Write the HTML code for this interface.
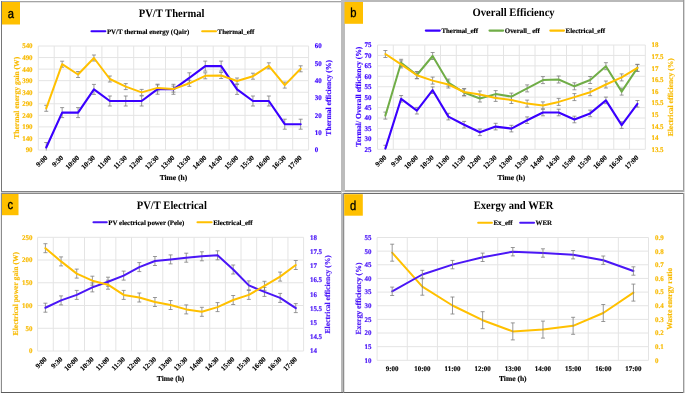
<!DOCTYPE html><html><head><meta charset="utf-8"><style>html,body{margin:0;padding:0;background:#fff;}svg{display:block;will-change:transform;text-rendering:geometricPrecision;}</style></head><body>
<div id="w"><svg width="685" height="394" viewBox="0 0 685 394">
<g>
<rect width="685" height="394" fill="#fff"/>
<g shape-rendering="crispEdges">
<rect x="1" y="1" width="340" height="1" fill="#a4a4a4"/>
<rect x="1" y="2" width="340" height="1" fill="#e4e4e4"/>
<rect x="1" y="1" width="1" height="191" fill="#767676"/>
<rect x="1" y="191" width="340" height="1" fill="#828282"/>
<rect x="341" y="0" width="344" height="2" fill="#b9b9b9"/>
<rect x="341" y="0" width="4" height="192" fill="#bcbcbc"/>
<rect x="683" y="0" width="1" height="192" fill="#9a9a9a"/>
<rect x="684" y="0" width="1" height="192" fill="#d8d8d8"/>
<rect x="345" y="190" width="339" height="2" fill="#a9a9a9"/>
<rect x="1" y="192" width="341" height="1" fill="#cacaca"/>
<rect x="343" y="192" width="342" height="1" fill="#f0f0f0"/>
<rect x="0" y="193" width="1" height="200" fill="#eeeeee"/>
<rect x="1" y="193" width="341" height="1" fill="#8a8a8a"/>
<rect x="1" y="193" width="1" height="200" fill="#8c8c8c"/>
<rect x="341" y="193" width="2" height="200" fill="#b8b8b8"/>
<rect x="1" y="392" width="683" height="1" fill="#5c5c5c"/>
<rect x="343" y="193" width="342" height="1" fill="#6c6c6c"/>
<rect x="343" y="193" width="1" height="200" fill="#8e8e8e"/>
<rect x="344" y="194" width="1" height="198" fill="#e2e2e2"/>
<rect x="683" y="193" width="1" height="200" fill="#9a9a9a"/>
<rect x="684" y="193" width="1" height="200" fill="#d8d8d8"/>
</g>
<rect x="2" y="2" width="18" height="22.5" fill="#FFC000"/>
<text x="0" y="0" font-size="13" fill="#000" text-anchor="middle" font-weight="normal" font-family="'Liberation Sans', sans-serif" transform="translate(10.8 17.7) scale(0.86 1)" stroke="#000" stroke-width="0.35">a</text>
<text x="0" y="0" font-size="11.4" fill="#000" text-anchor="middle" font-weight="bold" font-family="'Liberation Serif', serif" transform="translate(171.6 17.1) scale(0.93 1)">PV/T Thermal</text>
<path d="M91.5 31.3H105.3" stroke="#3A00FF" stroke-width="2.1" stroke-linecap="round"/>
<text x="106.9" y="33.6" font-size="6.9" fill="#000" text-anchor="start" font-weight="bold" font-family="'Liberation Serif', serif" stroke="#000" stroke-width="0.15">PV/T thermal energy (Qair)</text>
<path d="M202.2 31.3H216" stroke="#FFC000" stroke-width="2.1" stroke-linecap="round"/>
<text x="217.6" y="33.6" font-size="6.9" fill="#000" text-anchor="start" font-weight="bold" font-family="'Liberation Serif', serif" stroke="#000" stroke-width="0.15">Thermal_eff</text>
<path d="M38.3 46H308.6M38.3 57.56H308.6M38.3 69.11H308.6M38.3 80.67H308.6M38.3 92.22H308.6M38.3 103.78H308.6M38.3 115.33H308.6M38.3 126.89H308.6M38.3 138.44H308.6M38.3 150H308.6M38.3 46V150M54.2 46V150M70.1 46V150M86 46V150M101.9 46V150M117.8 46V150M133.7 46V150M149.6 46V150M165.5 46V150M181.4 46V150M197.3 46V150M213.2 46V150M229.1 46V150M245 46V150M260.9 46V150M276.8 46V150M292.7 46V150M308.6 46V150" fill="none" stroke="#e4e4e4" stroke-width="1"/>
<text x="0" y="0" font-size="7.1" fill="#F8BA00" text-anchor="end" font-weight="bold" font-family="'Liberation Serif', serif" transform="translate(32.6 48.4) scale(0.98 1)" stroke="#F8BA00" stroke-width="0.15">540</text>
<text x="0" y="0" font-size="7.1" fill="#F8BA00" text-anchor="end" font-weight="bold" font-family="'Liberation Serif', serif" transform="translate(32.6 59.96) scale(0.98 1)" stroke="#F8BA00" stroke-width="0.15">490</text>
<text x="0" y="0" font-size="7.1" fill="#F8BA00" text-anchor="end" font-weight="bold" font-family="'Liberation Serif', serif" transform="translate(32.6 71.51) scale(0.98 1)" stroke="#F8BA00" stroke-width="0.15">440</text>
<text x="0" y="0" font-size="7.1" fill="#F8BA00" text-anchor="end" font-weight="bold" font-family="'Liberation Serif', serif" transform="translate(32.6 83.07) scale(0.98 1)" stroke="#F8BA00" stroke-width="0.15">390</text>
<text x="0" y="0" font-size="7.1" fill="#F8BA00" text-anchor="end" font-weight="bold" font-family="'Liberation Serif', serif" transform="translate(32.6 94.62) scale(0.98 1)" stroke="#F8BA00" stroke-width="0.15">340</text>
<text x="0" y="0" font-size="7.1" fill="#F8BA00" text-anchor="end" font-weight="bold" font-family="'Liberation Serif', serif" transform="translate(32.6 106.18) scale(0.98 1)" stroke="#F8BA00" stroke-width="0.15">290</text>
<text x="0" y="0" font-size="7.1" fill="#F8BA00" text-anchor="end" font-weight="bold" font-family="'Liberation Serif', serif" transform="translate(32.6 117.73) scale(0.98 1)" stroke="#F8BA00" stroke-width="0.15">240</text>
<text x="0" y="0" font-size="7.1" fill="#F8BA00" text-anchor="end" font-weight="bold" font-family="'Liberation Serif', serif" transform="translate(32.6 129.29) scale(0.98 1)" stroke="#F8BA00" stroke-width="0.15">190</text>
<text x="0" y="0" font-size="7.1" fill="#F8BA00" text-anchor="end" font-weight="bold" font-family="'Liberation Serif', serif" transform="translate(32.6 140.84) scale(0.98 1)" stroke="#F8BA00" stroke-width="0.15">140</text>
<text x="0" y="0" font-size="7.1" fill="#F8BA00" text-anchor="end" font-weight="bold" font-family="'Liberation Serif', serif" transform="translate(32.6 152.4) scale(0.98 1)" stroke="#F8BA00" stroke-width="0.15">90</text>
<text x="0" y="0" font-size="7.1" fill="#3A00FF" text-anchor="start" font-weight="bold" font-family="'Liberation Serif', serif" transform="translate(314.8 48.4) scale(0.98 1)" stroke="#3A00FF" stroke-width="0.15">60</text>
<text x="0" y="0" font-size="7.1" fill="#3A00FF" text-anchor="start" font-weight="bold" font-family="'Liberation Serif', serif" transform="translate(314.8 65.73) scale(0.98 1)" stroke="#3A00FF" stroke-width="0.15">50</text>
<text x="0" y="0" font-size="7.1" fill="#3A00FF" text-anchor="start" font-weight="bold" font-family="'Liberation Serif', serif" transform="translate(314.8 83.07) scale(0.98 1)" stroke="#3A00FF" stroke-width="0.15">40</text>
<text x="0" y="0" font-size="7.1" fill="#3A00FF" text-anchor="start" font-weight="bold" font-family="'Liberation Serif', serif" transform="translate(314.8 100.4) scale(0.98 1)" stroke="#3A00FF" stroke-width="0.15">30</text>
<text x="0" y="0" font-size="7.1" fill="#3A00FF" text-anchor="start" font-weight="bold" font-family="'Liberation Serif', serif" transform="translate(314.8 117.73) scale(0.98 1)" stroke="#3A00FF" stroke-width="0.15">20</text>
<text x="0" y="0" font-size="7.1" fill="#3A00FF" text-anchor="start" font-weight="bold" font-family="'Liberation Serif', serif" transform="translate(314.8 135.07) scale(0.98 1)" stroke="#3A00FF" stroke-width="0.15">10</text>
<text x="0" y="0" font-size="7.1" fill="#3A00FF" text-anchor="start" font-weight="bold" font-family="'Liberation Serif', serif" transform="translate(314.8 152.4) scale(0.98 1)" stroke="#3A00FF" stroke-width="0.15">0</text>
<text x="18.6" y="97.8" font-size="7.55" fill="#F8BA00" text-anchor="middle" font-weight="bold" font-family="'Liberation Serif', serif" transform="rotate(-90 18.6 97.8)" stroke="#F8BA00" stroke-width="0.15">Thermal energy gain (W)</text>
<text x="331.2" y="97.8" font-size="7.62" fill="#3A00FF" text-anchor="middle" font-weight="bold" font-family="'Liberation Serif', serif" transform="rotate(-90 331.2 97.8)" stroke="#3A00FF" stroke-width="0.15">Thermal efficiency (%)</text>
<clipPath id="cp1"><rect x="37.8" y="45.5" width="271.3" height="105"/></clipPath><g clip-path="url(#cp1)">
<path d="M46.25 105.3V111.3M44.25 105.3H48.25M44.25 111.3H48.25M62.15 61.2V67.2M60.15 61.2H64.15M60.15 67.2H64.15M78.05 71.5V77.5M76.05 71.5H80.05M76.05 77.5H80.05M93.95 55V61M91.95 55H95.95M91.95 61H95.95M109.85 76V82M107.85 76H111.85M107.85 82H111.85M125.75 83.6V89.6M123.75 83.6H127.75M123.75 89.6H127.75M141.65 89.4V95.4M139.65 89.4H143.65M139.65 95.4H143.65M157.55 84.9V90.9M155.55 84.9H159.55M155.55 90.9H159.55M173.45 86.1V92.1M171.45 86.1H175.45M171.45 92.1H175.45M189.35 80.3V86.3M187.35 80.3H191.35M187.35 86.3H191.35M205.25 72.8V78.8M203.25 72.8H207.25M203.25 78.8H207.25M221.15 72.5V78.5M219.15 72.5H223.15M219.15 78.5H223.15M237.05 78V84M235.05 78H239.05M235.05 84H239.05M252.95 73.2V79.2M250.95 73.2H254.95M250.95 79.2H254.95M268.85 62.8V68.8M266.85 62.8H270.85M266.85 68.8H270.85M284.75 82.1V88.1M282.75 82.1H286.75M282.75 88.1H286.75M300.65 65.8V71.8M298.65 65.8H302.65M298.65 71.8H302.65" fill="none" stroke="#7f7f7f" stroke-width="0.8"/>
<path d="M46.25 142.5V152.5M44.25 142.5H48.25M44.25 152.5H48.25M62.15 107.6V117.6M60.15 107.6H64.15M60.15 117.6H64.15M78.05 107.6V117.6M76.05 107.6H80.05M76.05 117.6H80.05M93.95 84.4V94.4M91.95 84.4H95.95M91.95 94.4H95.95M109.85 96V106M107.85 96H111.85M107.85 106H111.85M125.75 96V106M123.75 96H127.75M123.75 106H127.75M141.65 96V106M139.65 96H143.65M139.65 106H143.65M157.55 84.2V94.2M155.55 84.2H159.55M155.55 94.2H159.55M173.45 84.3V94.3M171.45 84.3H175.45M171.45 94.3H175.45M189.35 72.8V82.8M187.35 72.8H191.35M187.35 82.8H191.35M205.25 61.1V71.1M203.25 61.1H207.25M203.25 71.1H207.25M221.15 61.1V71.1M219.15 61.1H223.15M219.15 71.1H223.15M237.05 84.4V94.4M235.05 84.4H239.05M235.05 94.4H239.05M252.95 96V106M250.95 96H254.95M250.95 106H254.95M268.85 96V106M266.85 96H270.85M266.85 106H270.85M284.75 119.2V129.2M282.75 119.2H286.75M282.75 129.2H286.75M300.65 119.2V129.2M298.65 119.2H302.65M298.65 129.2H302.65" fill="none" stroke="#7f7f7f" stroke-width="0.8"/>
<path d="M46.25 147.5 L62.15 112.6 L78.05 112.6 L93.95 89.4 L109.85 101 L125.75 101 L141.65 101 L157.55 89.2 L173.45 89.3 L189.35 77.8 L205.25 66.1 L221.15 66.1 L237.05 89.4 L252.95 101 L268.85 101 L284.75 124.2 L300.65 124.2" fill="none" stroke="#3A00FF" stroke-width="2.15" stroke-linejoin="round" stroke-linecap="round"/>
<path d="M46.25 108.3 L62.15 64.2 L78.05 74.5 L93.95 58 L109.85 79 L125.75 86.6 L141.65 92.4 L157.55 87.9 L173.45 89.1 L189.35 83.3 L205.25 75.8 L221.15 75.5 L237.05 81 L252.95 76.2 L268.85 65.8 L284.75 85.1 L300.65 68.8" fill="none" stroke="#FFC000" stroke-width="2.0" stroke-linejoin="round" stroke-linecap="round"/>
</g>
<text x="0" y="0" font-size="7.1" fill="#000" text-anchor="end" font-weight="bold" font-family="'Liberation Serif', serif" transform="translate(47.85 158.3) rotate(-45) scale(0.98 1)" stroke="#000" stroke-width="0.15">9:00</text>
<text x="0" y="0" font-size="7.1" fill="#000" text-anchor="end" font-weight="bold" font-family="'Liberation Serif', serif" transform="translate(63.75 158.3) rotate(-45) scale(0.98 1)" stroke="#000" stroke-width="0.15">9:30</text>
<text x="0" y="0" font-size="7.1" fill="#000" text-anchor="end" font-weight="bold" font-family="'Liberation Serif', serif" transform="translate(79.65 158.3) rotate(-45) scale(0.98 1)" stroke="#000" stroke-width="0.15">10:00</text>
<text x="0" y="0" font-size="7.1" fill="#000" text-anchor="end" font-weight="bold" font-family="'Liberation Serif', serif" transform="translate(95.55 158.3) rotate(-45) scale(0.98 1)" stroke="#000" stroke-width="0.15">10:30</text>
<text x="0" y="0" font-size="7.1" fill="#000" text-anchor="end" font-weight="bold" font-family="'Liberation Serif', serif" transform="translate(111.45 158.3) rotate(-45) scale(0.98 1)" stroke="#000" stroke-width="0.15">11:00</text>
<text x="0" y="0" font-size="7.1" fill="#000" text-anchor="end" font-weight="bold" font-family="'Liberation Serif', serif" transform="translate(127.35 158.3) rotate(-45) scale(0.98 1)" stroke="#000" stroke-width="0.15">11:30</text>
<text x="0" y="0" font-size="7.1" fill="#000" text-anchor="end" font-weight="bold" font-family="'Liberation Serif', serif" transform="translate(143.25 158.3) rotate(-45) scale(0.98 1)" stroke="#000" stroke-width="0.15">12:00</text>
<text x="0" y="0" font-size="7.1" fill="#000" text-anchor="end" font-weight="bold" font-family="'Liberation Serif', serif" transform="translate(159.15 158.3) rotate(-45) scale(0.98 1)" stroke="#000" stroke-width="0.15">12:30</text>
<text x="0" y="0" font-size="7.1" fill="#000" text-anchor="end" font-weight="bold" font-family="'Liberation Serif', serif" transform="translate(175.05 158.3) rotate(-45) scale(0.98 1)" stroke="#000" stroke-width="0.15">13:00</text>
<text x="0" y="0" font-size="7.1" fill="#000" text-anchor="end" font-weight="bold" font-family="'Liberation Serif', serif" transform="translate(190.95 158.3) rotate(-45) scale(0.98 1)" stroke="#000" stroke-width="0.15">13:30</text>
<text x="0" y="0" font-size="7.1" fill="#000" text-anchor="end" font-weight="bold" font-family="'Liberation Serif', serif" transform="translate(206.85 158.3) rotate(-45) scale(0.98 1)" stroke="#000" stroke-width="0.15">14:00</text>
<text x="0" y="0" font-size="7.1" fill="#000" text-anchor="end" font-weight="bold" font-family="'Liberation Serif', serif" transform="translate(222.75 158.3) rotate(-45) scale(0.98 1)" stroke="#000" stroke-width="0.15">14:30</text>
<text x="0" y="0" font-size="7.1" fill="#000" text-anchor="end" font-weight="bold" font-family="'Liberation Serif', serif" transform="translate(238.65 158.3) rotate(-45) scale(0.98 1)" stroke="#000" stroke-width="0.15">15:00</text>
<text x="0" y="0" font-size="7.1" fill="#000" text-anchor="end" font-weight="bold" font-family="'Liberation Serif', serif" transform="translate(254.55 158.3) rotate(-45) scale(0.98 1)" stroke="#000" stroke-width="0.15">15:30</text>
<text x="0" y="0" font-size="7.1" fill="#000" text-anchor="end" font-weight="bold" font-family="'Liberation Serif', serif" transform="translate(270.45 158.3) rotate(-45) scale(0.98 1)" stroke="#000" stroke-width="0.15">16:00</text>
<text x="0" y="0" font-size="7.1" fill="#000" text-anchor="end" font-weight="bold" font-family="'Liberation Serif', serif" transform="translate(286.35 158.3) rotate(-45) scale(0.98 1)" stroke="#000" stroke-width="0.15">16:30</text>
<text x="0" y="0" font-size="7.1" fill="#000" text-anchor="end" font-weight="bold" font-family="'Liberation Serif', serif" transform="translate(302.25 158.3) rotate(-45) scale(0.98 1)" stroke="#000" stroke-width="0.15">17:00</text>
<text x="173.45" y="179.8" font-size="7.5" fill="#000" text-anchor="middle" font-weight="bold" font-family="'Liberation Serif', serif" stroke="#000" stroke-width="0.15">Time (h)</text>
<rect x="344.5" y="2" width="18.5" height="21.8" fill="#FFC000"/>
<text x="0" y="0" font-size="13" fill="#000" text-anchor="middle" font-weight="normal" font-family="'Liberation Sans', sans-serif" transform="translate(353.4 17.4) scale(0.86 1)" stroke="#000" stroke-width="0.35">b</text>
<text x="0" y="0" font-size="11.4" fill="#000" text-anchor="middle" font-weight="bold" font-family="'Liberation Serif', serif" transform="translate(513.6 16.4) scale(0.93 1)">Overall Efficiency</text>
<path d="M425.8 30.6H439.8" stroke="#3A00FF" stroke-width="2.1" stroke-linecap="round"/>
<text x="441.4" y="32.9" font-size="6.9" fill="#000" text-anchor="start" font-weight="bold" font-family="'Liberation Serif', serif" stroke="#000" stroke-width="0.15">Thermal_eff</text>
<path d="M489.5 30.6H503.2" stroke="#70AD47" stroke-width="2.1" stroke-linecap="round"/>
<text x="504.8" y="32.9" font-size="6.9" fill="#000" text-anchor="start" font-weight="bold" font-family="'Liberation Serif', serif" stroke="#000" stroke-width="0.15">Overall_ eff</text>
<path d="M550.3 30.6H564" stroke="#FFC000" stroke-width="2.1" stroke-linecap="round"/>
<text x="565.6" y="32.9" font-size="6.9" fill="#000" text-anchor="start" font-weight="bold" font-family="'Liberation Serif', serif" stroke="#000" stroke-width="0.15">Electrical_eff</text>
<path d="M377.5 45H645.3M377.5 55.43H645.3M377.5 65.86H645.3M377.5 76.29H645.3M377.5 86.72H645.3M377.5 97.15H645.3M377.5 107.58H645.3M377.5 118.01H645.3M377.5 128.44H645.3M377.5 138.87H645.3M377.5 149.3H645.3M377.5 45V149.3M393.25 45V149.3M409.01 45V149.3M424.76 45V149.3M440.51 45V149.3M456.26 45V149.3M472.02 45V149.3M487.77 45V149.3M503.52 45V149.3M519.28 45V149.3M535.03 45V149.3M550.78 45V149.3M566.54 45V149.3M582.29 45V149.3M598.04 45V149.3M613.79 45V149.3M629.55 45V149.3M645.3 45V149.3" fill="none" stroke="#e4e4e4" stroke-width="1"/>
<text x="0" y="0" font-size="7.1" fill="#3A00FF" text-anchor="end" font-weight="bold" font-family="'Liberation Serif', serif" transform="translate(371.4 47.4) scale(0.98 1)" stroke="#3A00FF" stroke-width="0.15">75</text>
<text x="0" y="0" font-size="7.1" fill="#3A00FF" text-anchor="end" font-weight="bold" font-family="'Liberation Serif', serif" transform="translate(371.4 57.83) scale(0.98 1)" stroke="#3A00FF" stroke-width="0.15">70</text>
<text x="0" y="0" font-size="7.1" fill="#3A00FF" text-anchor="end" font-weight="bold" font-family="'Liberation Serif', serif" transform="translate(371.4 68.26) scale(0.98 1)" stroke="#3A00FF" stroke-width="0.15">65</text>
<text x="0" y="0" font-size="7.1" fill="#3A00FF" text-anchor="end" font-weight="bold" font-family="'Liberation Serif', serif" transform="translate(371.4 78.69) scale(0.98 1)" stroke="#3A00FF" stroke-width="0.15">60</text>
<text x="0" y="0" font-size="7.1" fill="#3A00FF" text-anchor="end" font-weight="bold" font-family="'Liberation Serif', serif" transform="translate(371.4 89.12) scale(0.98 1)" stroke="#3A00FF" stroke-width="0.15">55</text>
<text x="0" y="0" font-size="7.1" fill="#3A00FF" text-anchor="end" font-weight="bold" font-family="'Liberation Serif', serif" transform="translate(371.4 99.55) scale(0.98 1)" stroke="#3A00FF" stroke-width="0.15">50</text>
<text x="0" y="0" font-size="7.1" fill="#3A00FF" text-anchor="end" font-weight="bold" font-family="'Liberation Serif', serif" transform="translate(371.4 109.98) scale(0.98 1)" stroke="#3A00FF" stroke-width="0.15">45</text>
<text x="0" y="0" font-size="7.1" fill="#3A00FF" text-anchor="end" font-weight="bold" font-family="'Liberation Serif', serif" transform="translate(371.4 120.41) scale(0.98 1)" stroke="#3A00FF" stroke-width="0.15">40</text>
<text x="0" y="0" font-size="7.1" fill="#3A00FF" text-anchor="end" font-weight="bold" font-family="'Liberation Serif', serif" transform="translate(371.4 130.84) scale(0.98 1)" stroke="#3A00FF" stroke-width="0.15">35</text>
<text x="0" y="0" font-size="7.1" fill="#3A00FF" text-anchor="end" font-weight="bold" font-family="'Liberation Serif', serif" transform="translate(371.4 141.27) scale(0.98 1)" stroke="#3A00FF" stroke-width="0.15">30</text>
<text x="0" y="0" font-size="7.1" fill="#3A00FF" text-anchor="end" font-weight="bold" font-family="'Liberation Serif', serif" transform="translate(371.4 151.7) scale(0.98 1)" stroke="#3A00FF" stroke-width="0.15">25</text>
<text x="0" y="0" font-size="7.1" fill="#F8BA00" text-anchor="start" font-weight="bold" font-family="'Liberation Serif', serif" transform="translate(651.4 47.4) scale(0.98 1)" stroke="#F8BA00" stroke-width="0.15">18</text>
<text x="0" y="0" font-size="7.1" fill="#F8BA00" text-anchor="start" font-weight="bold" font-family="'Liberation Serif', serif" transform="translate(651.4 58.99) scale(0.98 1)" stroke="#F8BA00" stroke-width="0.15">17.5</text>
<text x="0" y="0" font-size="7.1" fill="#F8BA00" text-anchor="start" font-weight="bold" font-family="'Liberation Serif', serif" transform="translate(651.4 70.58) scale(0.98 1)" stroke="#F8BA00" stroke-width="0.15">17</text>
<text x="0" y="0" font-size="7.1" fill="#F8BA00" text-anchor="start" font-weight="bold" font-family="'Liberation Serif', serif" transform="translate(651.4 82.17) scale(0.98 1)" stroke="#F8BA00" stroke-width="0.15">16.5</text>
<text x="0" y="0" font-size="7.1" fill="#F8BA00" text-anchor="start" font-weight="bold" font-family="'Liberation Serif', serif" transform="translate(651.4 93.76) scale(0.98 1)" stroke="#F8BA00" stroke-width="0.15">16</text>
<text x="0" y="0" font-size="7.1" fill="#F8BA00" text-anchor="start" font-weight="bold" font-family="'Liberation Serif', serif" transform="translate(651.4 105.34) scale(0.98 1)" stroke="#F8BA00" stroke-width="0.15">15.5</text>
<text x="0" y="0" font-size="7.1" fill="#F8BA00" text-anchor="start" font-weight="bold" font-family="'Liberation Serif', serif" transform="translate(651.4 116.93) scale(0.98 1)" stroke="#F8BA00" stroke-width="0.15">15</text>
<text x="0" y="0" font-size="7.1" fill="#F8BA00" text-anchor="start" font-weight="bold" font-family="'Liberation Serif', serif" transform="translate(651.4 128.52) scale(0.98 1)" stroke="#F8BA00" stroke-width="0.15">14.5</text>
<text x="0" y="0" font-size="7.1" fill="#F8BA00" text-anchor="start" font-weight="bold" font-family="'Liberation Serif', serif" transform="translate(651.4 140.11) scale(0.98 1)" stroke="#F8BA00" stroke-width="0.15">14</text>
<text x="0" y="0" font-size="7.1" fill="#F8BA00" text-anchor="start" font-weight="bold" font-family="'Liberation Serif', serif" transform="translate(651.4 151.7) scale(0.98 1)" stroke="#F8BA00" stroke-width="0.15">13.5</text>
<text x="360.8" y="96.6" font-size="7.68" fill="#3A00FF" text-anchor="middle" font-weight="bold" font-family="'Liberation Serif', serif" transform="rotate(-90 360.8 96.6)" stroke="#3A00FF" stroke-width="0.15">Termal/ Overall efficiency (%)</text>
<text x="672.8" y="97.3" font-size="7.57" fill="#F8BA00" text-anchor="middle" font-weight="bold" font-family="'Liberation Serif', serif" transform="rotate(-90 672.8 97.3)" stroke="#F8BA00" stroke-width="0.15">Electrical efficiency (%)</text>
<clipPath id="cp2"><rect x="377" y="44.5" width="268.8" height="105.3"/></clipPath><g clip-path="url(#cp2)">
<path d="M385.38 112.1V119.1M383.38 112.1H387.38M383.38 119.1H387.38M401.13 59.3V66.3M399.13 59.3H403.13M399.13 66.3H403.13M416.88 71.5V78.5M414.88 71.5H418.88M414.88 78.5H418.88M432.64 52.5V59.5M430.64 52.5H434.64M430.64 59.5H434.64M448.39 79.1V86.1M446.39 79.1H450.39M446.39 86.1H450.39M464.14 89V96M462.14 89H466.14M462.14 96H466.14M479.89 95V102M477.89 95H481.89M477.89 102H481.89M495.65 90.6V97.6M493.65 90.6H497.65M493.65 97.6H497.65M511.4 93.1V100.1M509.4 93.1H513.4M509.4 100.1H513.4M527.15 84.9V91.9M525.15 84.9H529.15M525.15 91.9H529.15M542.91 76.6V83.6M540.91 76.6H544.91M540.91 83.6H544.91M558.66 76V83M556.66 76H560.66M556.66 83H560.66M574.41 82.8V89.8M572.41 82.8H576.41M572.41 89.8H576.41M590.16 76.5V83.5M588.16 76.5H592.16M588.16 83.5H592.16M605.92 62.7V69.7M603.92 62.7H607.92M603.92 69.7H607.92M621.67 88.1V95.1M619.67 88.1H623.67M619.67 95.1H623.67M637.42 64.4V71.4M635.42 64.4H639.42M635.42 71.4H639.42" fill="none" stroke="#7f7f7f" stroke-width="0.8"/>
<path d="M385.38 50.5V57.5M383.38 50.5H387.38M383.38 57.5H387.38M401.13 60.9V67.9M399.13 60.9H403.13M399.13 67.9H403.13M416.88 71.8V78.8M414.88 71.8H418.88M414.88 78.8H418.88M432.64 77.1V84.1M430.64 77.1H434.64M430.64 84.1H434.64M448.39 81V88M446.39 81H450.39M446.39 88H450.39M464.14 88.5V95.5M462.14 88.5H466.14M462.14 95.5H466.14M479.89 91V98M477.89 91H481.89M477.89 98H481.89M495.65 94.4V101.4M493.65 94.4H497.65M493.65 101.4H497.65M511.4 96.5V103.5M509.4 96.5H513.4M509.4 103.5H513.4M527.15 100.1V107.1M525.15 100.1H529.15M525.15 107.1H529.15M542.91 101.9V108.9M540.91 101.9H544.91M540.91 108.9H544.91M558.66 98.4V105.4M556.66 98.4H560.66M556.66 105.4H560.66M574.41 93.6V100.6M572.41 93.6H576.41M572.41 100.6H576.41M590.16 88.7V95.7M588.16 88.7H592.16M588.16 95.7H592.16M605.92 81V88M603.92 81H607.92M603.92 88H607.92M621.67 73.9V80.9M619.67 73.9H623.67M619.67 80.9H623.67M637.42 64.4V71.4M635.42 64.4H639.42M635.42 71.4H639.42" fill="none" stroke="#7f7f7f" stroke-width="0.8"/>
<path d="M385.38 145.3V151.9M383.38 145.3H387.38M383.38 151.9H387.38M401.13 95.5V102.1M399.13 95.5H403.13M399.13 102.1H403.13M416.88 107.4V114M414.88 107.4H418.88M414.88 114H418.88M432.64 86.9V93.5M430.64 86.9H434.64M430.64 93.5H434.64M448.39 113.3V119.9M446.39 113.3H450.39M446.39 119.9H450.39M464.14 121.4V128M462.14 121.4H466.14M462.14 128H466.14M479.89 129V135.6M477.89 129H481.89M477.89 135.6H481.89M495.65 123.3V129.9M493.65 123.3H497.65M493.65 129.9H497.65M511.4 125.3V131.9M509.4 125.3H513.4M509.4 131.9H513.4M527.15 116.9V123.5M525.15 116.9H529.15M525.15 123.5H529.15M542.91 109.2V115.8M540.91 109.2H544.91M540.91 115.8H544.91M558.66 109.2V115.8M556.66 109.2H560.66M556.66 115.8H560.66M574.41 116.2V122.8M572.41 116.2H576.41M572.41 122.8H576.41M590.16 110.1V116.7M588.16 110.1H592.16M588.16 116.7H592.16M605.92 97.1V103.7M603.92 97.1H607.92M603.92 103.7H607.92M621.67 121.8V128.4M619.67 121.8H623.67M619.67 128.4H623.67M637.42 100.5V107.1M635.42 100.5H639.42M635.42 107.1H639.42" fill="none" stroke="#7f7f7f" stroke-width="0.8"/>
<path d="M385.38 148.6 L401.13 98.8 L416.88 110.7 L432.64 90.2 L448.39 116.6 L464.14 124.7 L479.89 132.3 L495.65 126.6 L511.4 128.6 L527.15 120.2 L542.91 112.5 L558.66 112.5 L574.41 119.5 L590.16 113.4 L605.92 100.4 L621.67 125.1 L637.42 103.8" fill="none" stroke="#3A00FF" stroke-width="2.1" stroke-linejoin="round" stroke-linecap="round"/>
<path d="M385.38 115.6 L401.13 62.8 L416.88 75 L432.64 56 L448.39 82.6 L464.14 92.5 L479.89 98.5 L495.65 94.1 L511.4 96.6 L527.15 88.4 L542.91 80.1 L558.66 79.5 L574.41 86.3 L590.16 80 L605.92 66.2 L621.67 91.6 L637.42 67.9" fill="none" stroke="#70AD47" stroke-width="2.0" stroke-linejoin="round" stroke-linecap="round"/>
<path d="M385.38 54 L401.13 64.4 L416.88 75.3 L432.64 80.6 L448.39 84.5 L464.14 92 L479.89 94.5 L495.65 97.9 L511.4 100 L527.15 103.6 L542.91 105.4 L558.66 101.9 L574.41 97.1 L590.16 92.2 L605.92 84.5 L621.67 77.4 L637.42 67.9" fill="none" stroke="#FFC000" stroke-width="2.0" stroke-linejoin="round" stroke-linecap="round"/>
</g>
<text x="0" y="0" font-size="7.1" fill="#000" text-anchor="end" font-weight="bold" font-family="'Liberation Serif', serif" transform="translate(386.98 158) rotate(-45) scale(0.98 1)" stroke="#000" stroke-width="0.15">9:00</text>
<text x="0" y="0" font-size="7.1" fill="#000" text-anchor="end" font-weight="bold" font-family="'Liberation Serif', serif" transform="translate(402.73 158) rotate(-45) scale(0.98 1)" stroke="#000" stroke-width="0.15">9:30</text>
<text x="0" y="0" font-size="7.1" fill="#000" text-anchor="end" font-weight="bold" font-family="'Liberation Serif', serif" transform="translate(418.48 158) rotate(-45) scale(0.98 1)" stroke="#000" stroke-width="0.15">10:00</text>
<text x="0" y="0" font-size="7.1" fill="#000" text-anchor="end" font-weight="bold" font-family="'Liberation Serif', serif" transform="translate(434.24 158) rotate(-45) scale(0.98 1)" stroke="#000" stroke-width="0.15">10:30</text>
<text x="0" y="0" font-size="7.1" fill="#000" text-anchor="end" font-weight="bold" font-family="'Liberation Serif', serif" transform="translate(449.99 158) rotate(-45) scale(0.98 1)" stroke="#000" stroke-width="0.15">11:00</text>
<text x="0" y="0" font-size="7.1" fill="#000" text-anchor="end" font-weight="bold" font-family="'Liberation Serif', serif" transform="translate(465.74 158) rotate(-45) scale(0.98 1)" stroke="#000" stroke-width="0.15">11:30</text>
<text x="0" y="0" font-size="7.1" fill="#000" text-anchor="end" font-weight="bold" font-family="'Liberation Serif', serif" transform="translate(481.49 158) rotate(-45) scale(0.98 1)" stroke="#000" stroke-width="0.15">12:00</text>
<text x="0" y="0" font-size="7.1" fill="#000" text-anchor="end" font-weight="bold" font-family="'Liberation Serif', serif" transform="translate(497.25 158) rotate(-45) scale(0.98 1)" stroke="#000" stroke-width="0.15">12:30</text>
<text x="0" y="0" font-size="7.1" fill="#000" text-anchor="end" font-weight="bold" font-family="'Liberation Serif', serif" transform="translate(513 158) rotate(-45) scale(0.98 1)" stroke="#000" stroke-width="0.15">13:00</text>
<text x="0" y="0" font-size="7.1" fill="#000" text-anchor="end" font-weight="bold" font-family="'Liberation Serif', serif" transform="translate(528.75 158) rotate(-45) scale(0.98 1)" stroke="#000" stroke-width="0.15">13:30</text>
<text x="0" y="0" font-size="7.1" fill="#000" text-anchor="end" font-weight="bold" font-family="'Liberation Serif', serif" transform="translate(544.51 158) rotate(-45) scale(0.98 1)" stroke="#000" stroke-width="0.15">14:00</text>
<text x="0" y="0" font-size="7.1" fill="#000" text-anchor="end" font-weight="bold" font-family="'Liberation Serif', serif" transform="translate(560.26 158) rotate(-45) scale(0.98 1)" stroke="#000" stroke-width="0.15">14:30</text>
<text x="0" y="0" font-size="7.1" fill="#000" text-anchor="end" font-weight="bold" font-family="'Liberation Serif', serif" transform="translate(576.01 158) rotate(-45) scale(0.98 1)" stroke="#000" stroke-width="0.15">15:00</text>
<text x="0" y="0" font-size="7.1" fill="#000" text-anchor="end" font-weight="bold" font-family="'Liberation Serif', serif" transform="translate(591.76 158) rotate(-45) scale(0.98 1)" stroke="#000" stroke-width="0.15">15:30</text>
<text x="0" y="0" font-size="7.1" fill="#000" text-anchor="end" font-weight="bold" font-family="'Liberation Serif', serif" transform="translate(607.52 158) rotate(-45) scale(0.98 1)" stroke="#000" stroke-width="0.15">16:00</text>
<text x="0" y="0" font-size="7.1" fill="#000" text-anchor="end" font-weight="bold" font-family="'Liberation Serif', serif" transform="translate(623.27 158) rotate(-45) scale(0.98 1)" stroke="#000" stroke-width="0.15">16:30</text>
<text x="0" y="0" font-size="7.1" fill="#000" text-anchor="end" font-weight="bold" font-family="'Liberation Serif', serif" transform="translate(639.02 158) rotate(-45) scale(0.98 1)" stroke="#000" stroke-width="0.15">17:00</text>
<text x="511.4" y="180.1" font-size="7.5" fill="#000" text-anchor="middle" font-weight="bold" font-family="'Liberation Serif', serif" stroke="#000" stroke-width="0.15">Time (h)</text>
<rect x="2" y="194" width="16.5" height="21.2" fill="#FFC000"/>
<text x="0" y="0" font-size="13" fill="#000" text-anchor="middle" font-weight="normal" font-family="'Liberation Sans', sans-serif" transform="translate(10.3 208.7) scale(0.86 1)" stroke="#000" stroke-width="0.35">c</text>
<text x="0" y="0" font-size="11.4" fill="#000" text-anchor="middle" font-weight="bold" font-family="'Liberation Serif', serif" transform="translate(171.8 208.7) scale(0.93 1)">PV/T Electrical</text>
<path d="M93.5 222.2H106.7" stroke="#4A16F6" stroke-width="2.1" stroke-linecap="round"/>
<text x="108.3" y="224.5" font-size="6.9" fill="#000" text-anchor="start" font-weight="bold" font-family="'Liberation Serif', serif" stroke="#000" stroke-width="0.15">PV electrical power (Pele)</text>
<path d="M197.5 222.2H211.6" stroke="#FFC000" stroke-width="2.1" stroke-linecap="round"/>
<text x="213.2" y="224.5" font-size="6.9" fill="#000" text-anchor="start" font-weight="bold" font-family="'Liberation Serif', serif" stroke="#000" stroke-width="0.15">Electrical_eff</text>
<path d="M37.6 237.3H303.6M37.6 260.04H303.6M37.6 282.78H303.6M37.6 305.52H303.6M37.6 328.26H303.6M37.6 351H303.6M37.6 237.3V351M53.25 237.3V351M68.89 237.3V351M84.54 237.3V351M100.19 237.3V351M115.84 237.3V351M131.48 237.3V351M147.13 237.3V351M162.78 237.3V351M178.42 237.3V351M194.07 237.3V351M209.72 237.3V351M225.36 237.3V351M241.01 237.3V351M256.66 237.3V351M272.31 237.3V351M287.95 237.3V351M303.6 237.3V351" fill="none" stroke="#e4e4e4" stroke-width="1"/>
<text x="0" y="0" font-size="7.1" fill="#F8BA00" text-anchor="end" font-weight="bold" font-family="'Liberation Serif', serif" transform="translate(32.4 239.7) scale(0.98 1)" stroke="#F8BA00" stroke-width="0.15">250</text>
<text x="0" y="0" font-size="7.1" fill="#F8BA00" text-anchor="end" font-weight="bold" font-family="'Liberation Serif', serif" transform="translate(32.4 262.44) scale(0.98 1)" stroke="#F8BA00" stroke-width="0.15">200</text>
<text x="0" y="0" font-size="7.1" fill="#F8BA00" text-anchor="end" font-weight="bold" font-family="'Liberation Serif', serif" transform="translate(32.4 285.18) scale(0.98 1)" stroke="#F8BA00" stroke-width="0.15">150</text>
<text x="0" y="0" font-size="7.1" fill="#F8BA00" text-anchor="end" font-weight="bold" font-family="'Liberation Serif', serif" transform="translate(32.4 307.92) scale(0.98 1)" stroke="#F8BA00" stroke-width="0.15">100</text>
<text x="0" y="0" font-size="7.1" fill="#F8BA00" text-anchor="end" font-weight="bold" font-family="'Liberation Serif', serif" transform="translate(32.4 330.66) scale(0.98 1)" stroke="#F8BA00" stroke-width="0.15">50</text>
<text x="0" y="0" font-size="7.1" fill="#F8BA00" text-anchor="end" font-weight="bold" font-family="'Liberation Serif', serif" transform="translate(32.4 353.4) scale(0.98 1)" stroke="#F8BA00" stroke-width="0.15">0</text>
<text x="0" y="0" font-size="7.1" fill="#4A16F6" text-anchor="start" font-weight="bold" font-family="'Liberation Serif', serif" transform="translate(309.9 239.7) scale(0.98 1)" stroke="#4A16F6" stroke-width="0.15">18</text>
<text x="0" y="0" font-size="7.1" fill="#4A16F6" text-anchor="start" font-weight="bold" font-family="'Liberation Serif', serif" transform="translate(309.9 253.91) scale(0.98 1)" stroke="#4A16F6" stroke-width="0.15">17.5</text>
<text x="0" y="0" font-size="7.1" fill="#4A16F6" text-anchor="start" font-weight="bold" font-family="'Liberation Serif', serif" transform="translate(309.9 268.12) scale(0.98 1)" stroke="#4A16F6" stroke-width="0.15">17</text>
<text x="0" y="0" font-size="7.1" fill="#4A16F6" text-anchor="start" font-weight="bold" font-family="'Liberation Serif', serif" transform="translate(309.9 282.34) scale(0.98 1)" stroke="#4A16F6" stroke-width="0.15">16.5</text>
<text x="0" y="0" font-size="7.1" fill="#4A16F6" text-anchor="start" font-weight="bold" font-family="'Liberation Serif', serif" transform="translate(309.9 296.55) scale(0.98 1)" stroke="#4A16F6" stroke-width="0.15">16</text>
<text x="0" y="0" font-size="7.1" fill="#4A16F6" text-anchor="start" font-weight="bold" font-family="'Liberation Serif', serif" transform="translate(309.9 310.76) scale(0.98 1)" stroke="#4A16F6" stroke-width="0.15">15.5</text>
<text x="0" y="0" font-size="7.1" fill="#4A16F6" text-anchor="start" font-weight="bold" font-family="'Liberation Serif', serif" transform="translate(309.9 324.97) scale(0.98 1)" stroke="#4A16F6" stroke-width="0.15">15</text>
<text x="0" y="0" font-size="7.1" fill="#4A16F6" text-anchor="start" font-weight="bold" font-family="'Liberation Serif', serif" transform="translate(309.9 339.19) scale(0.98 1)" stroke="#4A16F6" stroke-width="0.15">14.5</text>
<text x="0" y="0" font-size="7.1" fill="#4A16F6" text-anchor="start" font-weight="bold" font-family="'Liberation Serif', serif" transform="translate(309.9 353.4) scale(0.98 1)" stroke="#4A16F6" stroke-width="0.15">14</text>
<text x="18.4" y="293.7" font-size="7.58" fill="#F8BA00" text-anchor="middle" font-weight="bold" font-family="'Liberation Serif', serif" transform="rotate(-90 18.4 293.7)" stroke="#F8BA00" stroke-width="0.15">Electrical power gain (W)</text>
<text x="330.4" y="294.3" font-size="7.59" fill="#4A16F6" text-anchor="middle" font-weight="bold" font-family="'Liberation Serif', serif" transform="rotate(-90 330.4 294.3)" stroke="#4A16F6" stroke-width="0.15">Electrical efficiency (%)</text>
<clipPath id="cp3"><rect x="37.1" y="236.8" width="267" height="114.7"/></clipPath><g clip-path="url(#cp3)">
<path d="M45.42 243.7V252.7M43.42 243.7H47.42M43.42 252.7H47.42M61.07 256.9V265.9M59.07 256.9H63.07M59.07 265.9H63.07M76.72 269.1V278.1M74.72 269.1H78.72M74.72 278.1H78.72M92.36 276.2V285.2M90.36 276.2H94.36M90.36 285.2H94.36M108.01 280.2V289.2M106.01 280.2H110.01M106.01 289.2H110.01M123.66 290.4V299.4M121.66 290.4H125.66M121.66 299.4H125.66M139.31 293V302M137.31 293H141.31M137.31 302H141.31M154.95 297.5V306.5M152.95 297.5H156.95M152.95 306.5H156.95M170.6 300.5V309.5M168.6 300.5H172.6M168.6 309.5H172.6M186.25 304.9V313.9M184.25 304.9H188.25M184.25 313.9H188.25M201.89 307.3V316.3M199.89 307.3H203.89M199.89 316.3H203.89M217.54 302.6V311.6M215.54 302.6H219.54M215.54 311.6H219.54M233.19 295.5V304.5M231.19 295.5H235.19M231.19 304.5H235.19M248.84 290.4V299.4M246.84 290.4H250.84M246.84 299.4H250.84M264.48 281.3V290.3M262.48 281.3H266.48M262.48 290.3H266.48M280.13 272.1V281.1M278.13 272.1H282.13M278.13 281.1H282.13M295.78 260.5V269.5M293.78 260.5H297.78M293.78 269.5H297.78" fill="none" stroke="#7f7f7f" stroke-width="0.8"/>
<path d="M45.42 303.2V312.2M43.42 303.2H47.42M43.42 312.2H47.42M61.07 295.9V304.9M59.07 295.9H63.07M59.07 304.9H63.07M76.72 290.4V299.4M74.72 290.4H78.72M74.72 299.4H78.72M92.36 282.9V291.9M90.36 282.9H94.36M90.36 291.9H94.36M108.01 277.2V286.2M106.01 277.2H110.01M106.01 286.2H110.01M123.66 271.1V280.1M121.66 271.1H125.66M121.66 280.1H125.66M139.31 262.6V271.6M137.31 262.6H141.31M137.31 271.6H141.31M154.95 256.5V265.5M152.95 256.5H156.95M152.95 265.5H156.95M170.6 254.9V263.9M168.6 254.9H172.6M168.6 263.9H172.6M186.25 253.2V262.2M184.25 253.2H188.25M184.25 262.2H188.25M201.89 251.8V260.8M199.89 251.8H203.89M199.89 260.8H203.89M217.54 250.8V259.8M215.54 250.8H219.54M215.54 259.8H219.54M233.19 265V274M231.19 265H235.19M231.19 274H235.19M248.84 280.9V289.9M246.84 280.9H250.84M246.84 289.9H250.84M264.48 287.4V296.4M262.48 287.4H266.48M262.48 296.4H266.48M280.13 293.4V302.4M278.13 293.4H282.13M278.13 302.4H282.13M295.78 303.6V312.6M293.78 303.6H297.78M293.78 312.6H297.78" fill="none" stroke="#7f7f7f" stroke-width="0.8"/>
<path d="M45.42 307.7 L61.07 300.4 L76.72 294.9 L92.36 287.4 L108.01 281.7 L123.66 275.6 L139.31 267.1 L154.95 261 L170.6 259.4 L186.25 257.7 L201.89 256.3 L217.54 255.3 L233.19 269.5 L248.84 285.4 L264.48 291.9 L280.13 297.9 L295.78 308.1" fill="none" stroke="#4A16F6" stroke-width="2.05" stroke-linejoin="round" stroke-linecap="round"/>
<path d="M45.42 248.2 L61.07 261.4 L76.72 273.6 L92.36 280.7 L108.01 284.7 L123.66 294.9 L139.31 297.5 L154.95 302 L170.6 305 L186.25 309.4 L201.89 311.8 L217.54 307.1 L233.19 300 L248.84 294.9 L264.48 285.8 L280.13 276.6 L295.78 265" fill="none" stroke="#FFC000" stroke-width="2.0" stroke-linejoin="round" stroke-linecap="round"/>
</g>
<text x="0" y="0" font-size="7.1" fill="#000" text-anchor="end" font-weight="bold" font-family="'Liberation Serif', serif" transform="translate(47.22 359.8) rotate(-45) scale(0.98 1)" stroke="#000" stroke-width="0.15">9:00</text>
<text x="0" y="0" font-size="7.1" fill="#000" text-anchor="end" font-weight="bold" font-family="'Liberation Serif', serif" transform="translate(62.87 359.8) rotate(-45) scale(0.98 1)" stroke="#000" stroke-width="0.15">9:30</text>
<text x="0" y="0" font-size="7.1" fill="#000" text-anchor="end" font-weight="bold" font-family="'Liberation Serif', serif" transform="translate(78.52 359.8) rotate(-45) scale(0.98 1)" stroke="#000" stroke-width="0.15">10:00</text>
<text x="0" y="0" font-size="7.1" fill="#000" text-anchor="end" font-weight="bold" font-family="'Liberation Serif', serif" transform="translate(94.16 359.8) rotate(-45) scale(0.98 1)" stroke="#000" stroke-width="0.15">10:30</text>
<text x="0" y="0" font-size="7.1" fill="#000" text-anchor="end" font-weight="bold" font-family="'Liberation Serif', serif" transform="translate(109.81 359.8) rotate(-45) scale(0.98 1)" stroke="#000" stroke-width="0.15">11:00</text>
<text x="0" y="0" font-size="7.1" fill="#000" text-anchor="end" font-weight="bold" font-family="'Liberation Serif', serif" transform="translate(125.46 359.8) rotate(-45) scale(0.98 1)" stroke="#000" stroke-width="0.15">11:30</text>
<text x="0" y="0" font-size="7.1" fill="#000" text-anchor="end" font-weight="bold" font-family="'Liberation Serif', serif" transform="translate(141.11 359.8) rotate(-45) scale(0.98 1)" stroke="#000" stroke-width="0.15">12:00</text>
<text x="0" y="0" font-size="7.1" fill="#000" text-anchor="end" font-weight="bold" font-family="'Liberation Serif', serif" transform="translate(156.75 359.8) rotate(-45) scale(0.98 1)" stroke="#000" stroke-width="0.15">12:30</text>
<text x="0" y="0" font-size="7.1" fill="#000" text-anchor="end" font-weight="bold" font-family="'Liberation Serif', serif" transform="translate(172.4 359.8) rotate(-45) scale(0.98 1)" stroke="#000" stroke-width="0.15">13:00</text>
<text x="0" y="0" font-size="7.1" fill="#000" text-anchor="end" font-weight="bold" font-family="'Liberation Serif', serif" transform="translate(188.05 359.8) rotate(-45) scale(0.98 1)" stroke="#000" stroke-width="0.15">13:30</text>
<text x="0" y="0" font-size="7.1" fill="#000" text-anchor="end" font-weight="bold" font-family="'Liberation Serif', serif" transform="translate(203.69 359.8) rotate(-45) scale(0.98 1)" stroke="#000" stroke-width="0.15">14:00</text>
<text x="0" y="0" font-size="7.1" fill="#000" text-anchor="end" font-weight="bold" font-family="'Liberation Serif', serif" transform="translate(219.34 359.8) rotate(-45) scale(0.98 1)" stroke="#000" stroke-width="0.15">14:30</text>
<text x="0" y="0" font-size="7.1" fill="#000" text-anchor="end" font-weight="bold" font-family="'Liberation Serif', serif" transform="translate(234.99 359.8) rotate(-45) scale(0.98 1)" stroke="#000" stroke-width="0.15">15:00</text>
<text x="0" y="0" font-size="7.1" fill="#000" text-anchor="end" font-weight="bold" font-family="'Liberation Serif', serif" transform="translate(250.64 359.8) rotate(-45) scale(0.98 1)" stroke="#000" stroke-width="0.15">15:30</text>
<text x="0" y="0" font-size="7.1" fill="#000" text-anchor="end" font-weight="bold" font-family="'Liberation Serif', serif" transform="translate(266.28 359.8) rotate(-45) scale(0.98 1)" stroke="#000" stroke-width="0.15">16:00</text>
<text x="0" y="0" font-size="7.1" fill="#000" text-anchor="end" font-weight="bold" font-family="'Liberation Serif', serif" transform="translate(281.93 359.8) rotate(-45) scale(0.98 1)" stroke="#000" stroke-width="0.15">16:30</text>
<text x="0" y="0" font-size="7.1" fill="#000" text-anchor="end" font-weight="bold" font-family="'Liberation Serif', serif" transform="translate(297.58 359.8) rotate(-45) scale(0.98 1)" stroke="#000" stroke-width="0.15">17:00</text>
<text x="170.6" y="381.3" font-size="7.5" fill="#000" text-anchor="middle" font-weight="bold" font-family="'Liberation Serif', serif" stroke="#000" stroke-width="0.15">Time (h)</text>
<rect x="344.2" y="194.2" width="18.6" height="21.5" fill="#FFC000"/>
<text x="0" y="0" font-size="13" fill="#000" text-anchor="middle" font-weight="normal" font-family="'Liberation Sans', sans-serif" transform="translate(353.2 210) scale(0.86 1)" stroke="#000" stroke-width="0.35">d</text>
<text x="0" y="0" font-size="11.4" fill="#000" text-anchor="middle" font-weight="bold" font-family="'Liberation Serif', serif" transform="translate(513.6 208.8) scale(0.93 1)">Exergy and WER</text>
<path d="M478.2 222.7H491.9" stroke="#FFC000" stroke-width="2.1" stroke-linecap="round"/>
<text x="493.5" y="225" font-size="6.9" fill="#000" text-anchor="start" font-weight="bold" font-family="'Liberation Serif', serif" stroke="#000" stroke-width="0.15">Ex_eff</text>
<path d="M520.2 222.7H534" stroke="#4A16F6" stroke-width="2.1" stroke-linecap="round"/>
<text x="535.6" y="225" font-size="6.9" fill="#000" text-anchor="start" font-weight="bold" font-family="'Liberation Serif', serif" stroke="#000" stroke-width="0.15">WER</text>
<path d="M377.1 237.5H648.5M377.1 251.14H648.5M377.1 264.79H648.5M377.1 278.43H648.5M377.1 292.08H648.5M377.1 305.72H648.5M377.1 319.37H648.5M377.1 333.01H648.5M377.1 346.66H648.5M377.1 360.3H648.5M377.1 237.5V360.3M407.26 237.5V360.3M437.41 237.5V360.3M467.57 237.5V360.3M497.72 237.5V360.3M527.88 237.5V360.3M558.03 237.5V360.3M588.19 237.5V360.3M618.34 237.5V360.3M648.5 237.5V360.3" fill="none" stroke="#e4e4e4" stroke-width="1"/>
<text x="0" y="0" font-size="7.1" fill="#4A16F6" text-anchor="end" font-weight="bold" font-family="'Liberation Serif', serif" transform="translate(371.4 239.9) scale(0.98 1)" stroke="#4A16F6" stroke-width="0.15">55</text>
<text x="0" y="0" font-size="7.1" fill="#4A16F6" text-anchor="end" font-weight="bold" font-family="'Liberation Serif', serif" transform="translate(371.4 253.54) scale(0.98 1)" stroke="#4A16F6" stroke-width="0.15">50</text>
<text x="0" y="0" font-size="7.1" fill="#4A16F6" text-anchor="end" font-weight="bold" font-family="'Liberation Serif', serif" transform="translate(371.4 267.19) scale(0.98 1)" stroke="#4A16F6" stroke-width="0.15">45</text>
<text x="0" y="0" font-size="7.1" fill="#4A16F6" text-anchor="end" font-weight="bold" font-family="'Liberation Serif', serif" transform="translate(371.4 280.83) scale(0.98 1)" stroke="#4A16F6" stroke-width="0.15">40</text>
<text x="0" y="0" font-size="7.1" fill="#4A16F6" text-anchor="end" font-weight="bold" font-family="'Liberation Serif', serif" transform="translate(371.4 294.48) scale(0.98 1)" stroke="#4A16F6" stroke-width="0.15">35</text>
<text x="0" y="0" font-size="7.1" fill="#4A16F6" text-anchor="end" font-weight="bold" font-family="'Liberation Serif', serif" transform="translate(371.4 308.12) scale(0.98 1)" stroke="#4A16F6" stroke-width="0.15">30</text>
<text x="0" y="0" font-size="7.1" fill="#4A16F6" text-anchor="end" font-weight="bold" font-family="'Liberation Serif', serif" transform="translate(371.4 321.77) scale(0.98 1)" stroke="#4A16F6" stroke-width="0.15">25</text>
<text x="0" y="0" font-size="7.1" fill="#4A16F6" text-anchor="end" font-weight="bold" font-family="'Liberation Serif', serif" transform="translate(371.4 335.41) scale(0.98 1)" stroke="#4A16F6" stroke-width="0.15">20</text>
<text x="0" y="0" font-size="7.1" fill="#4A16F6" text-anchor="end" font-weight="bold" font-family="'Liberation Serif', serif" transform="translate(371.4 349.06) scale(0.98 1)" stroke="#4A16F6" stroke-width="0.15">15</text>
<text x="0" y="0" font-size="7.1" fill="#4A16F6" text-anchor="end" font-weight="bold" font-family="'Liberation Serif', serif" transform="translate(371.4 362.7) scale(0.98 1)" stroke="#4A16F6" stroke-width="0.15">10</text>
<text x="0" y="0" font-size="7.1" fill="#F8BA00" text-anchor="start" font-weight="bold" font-family="'Liberation Serif', serif" transform="translate(655 239.9) scale(0.98 1)" stroke="#F8BA00" stroke-width="0.15">0.9</text>
<text x="0" y="0" font-size="7.1" fill="#F8BA00" text-anchor="start" font-weight="bold" font-family="'Liberation Serif', serif" transform="translate(655 253.54) scale(0.98 1)" stroke="#F8BA00" stroke-width="0.15">0.8</text>
<text x="0" y="0" font-size="7.1" fill="#F8BA00" text-anchor="start" font-weight="bold" font-family="'Liberation Serif', serif" transform="translate(655 267.19) scale(0.98 1)" stroke="#F8BA00" stroke-width="0.15">0.7</text>
<text x="0" y="0" font-size="7.1" fill="#F8BA00" text-anchor="start" font-weight="bold" font-family="'Liberation Serif', serif" transform="translate(655 280.83) scale(0.98 1)" stroke="#F8BA00" stroke-width="0.15">0.6</text>
<text x="0" y="0" font-size="7.1" fill="#F8BA00" text-anchor="start" font-weight="bold" font-family="'Liberation Serif', serif" transform="translate(655 294.48) scale(0.98 1)" stroke="#F8BA00" stroke-width="0.15">0.5</text>
<text x="0" y="0" font-size="7.1" fill="#F8BA00" text-anchor="start" font-weight="bold" font-family="'Liberation Serif', serif" transform="translate(655 308.12) scale(0.98 1)" stroke="#F8BA00" stroke-width="0.15">0.4</text>
<text x="0" y="0" font-size="7.1" fill="#F8BA00" text-anchor="start" font-weight="bold" font-family="'Liberation Serif', serif" transform="translate(655 321.77) scale(0.98 1)" stroke="#F8BA00" stroke-width="0.15">0.3</text>
<text x="0" y="0" font-size="7.1" fill="#F8BA00" text-anchor="start" font-weight="bold" font-family="'Liberation Serif', serif" transform="translate(655 335.41) scale(0.98 1)" stroke="#F8BA00" stroke-width="0.15">0.2</text>
<text x="0" y="0" font-size="7.1" fill="#F8BA00" text-anchor="start" font-weight="bold" font-family="'Liberation Serif', serif" transform="translate(655 349.06) scale(0.98 1)" stroke="#F8BA00" stroke-width="0.15">0.1</text>
<text x="0" y="0" font-size="7.1" fill="#F8BA00" text-anchor="start" font-weight="bold" font-family="'Liberation Serif', serif" transform="translate(655 362.7) scale(0.98 1)" stroke="#F8BA00" stroke-width="0.15">0</text>
<text x="360.5" y="298.5" font-size="7.79" fill="#4A16F6" text-anchor="middle" font-weight="bold" font-family="'Liberation Serif', serif" transform="rotate(-90 360.5 298.5)" stroke="#4A16F6" stroke-width="0.15">Exergy efficiency (%)</text>
<text x="672.1" y="298.8" font-size="7.69" fill="#F8BA00" text-anchor="middle" font-weight="bold" font-family="'Liberation Serif', serif" transform="rotate(-90 672.1 298.8)" stroke="#F8BA00" stroke-width="0.15">Waste energy ratio</text>
<clipPath id="cp4"><rect x="376.6" y="237" width="272.4" height="123.8"/></clipPath><g clip-path="url(#cp4)">
<path d="M392.18 252.7 L422.33 286.7 L452.49 305.5 L482.64 320.2 L512.8 331.4 L542.96 329.6 L573.11 325.8 L603.27 313 L633.42 292.6" fill="none" stroke="#FFC000" stroke-width="2.0" stroke-linejoin="round" stroke-linecap="round"/>
<path d="M392.18 291.3 L422.33 274.5 L452.49 264.6 L482.64 257.3 L512.8 251.7 L542.96 253 L573.11 254.7 L603.27 260.2 L633.42 271" fill="none" stroke="#4A16F6" stroke-width="2.0" stroke-linejoin="round" stroke-linecap="round"/>
<path d="M392.18 244.2V261.2M390.18 244.2H394.18M390.18 261.2H394.18M422.33 278.2V295.2M420.33 278.2H424.33M420.33 295.2H424.33M452.49 297V314M450.49 297H454.49M450.49 314H454.49M482.64 311.7V328.7M480.64 311.7H484.64M480.64 328.7H484.64M512.8 322.9V339.9M510.8 322.9H514.8M510.8 339.9H514.8M542.96 321.1V338.1M540.96 321.1H544.96M540.96 338.1H544.96M573.11 317.3V334.3M571.11 317.3H575.11M571.11 334.3H575.11M603.27 304.5V321.5M601.27 304.5H605.27M601.27 321.5H605.27M633.42 284.1V301.1M631.42 284.1H635.42M631.42 301.1H635.42" fill="none" stroke="#7f7f7f" stroke-width="0.8"/>
<path d="M392.18 287.1V295.5M390.18 287.1H394.18M390.18 295.5H394.18M422.33 270.3V278.7M420.33 270.3H424.33M420.33 278.7H424.33M452.49 260.4V268.8M450.49 260.4H454.49M450.49 268.8H454.49M482.64 253.1V261.5M480.64 253.1H484.64M480.64 261.5H484.64M512.8 247.5V255.9M510.8 247.5H514.8M510.8 255.9H514.8M542.96 248.8V257.2M540.96 248.8H544.96M540.96 257.2H544.96M573.11 250.5V258.9M571.11 250.5H575.11M571.11 258.9H575.11M603.27 256V264.4M601.27 256H605.27M601.27 264.4H605.27M633.42 266.8V275.2M631.42 266.8H635.42M631.42 275.2H635.42" fill="none" stroke="#7f7f7f" stroke-width="0.8"/>
</g>
<text x="0" y="0" font-size="7.1" fill="#000" text-anchor="middle" font-weight="bold" font-family="'Liberation Serif', serif" transform="translate(392.18 370.8) scale(0.98 1)" stroke="#000" stroke-width="0.15">9:00</text>
<text x="0" y="0" font-size="7.1" fill="#000" text-anchor="middle" font-weight="bold" font-family="'Liberation Serif', serif" transform="translate(422.33 370.8) scale(0.98 1)" stroke="#000" stroke-width="0.15">10:00</text>
<text x="0" y="0" font-size="7.1" fill="#000" text-anchor="middle" font-weight="bold" font-family="'Liberation Serif', serif" transform="translate(452.49 370.8) scale(0.98 1)" stroke="#000" stroke-width="0.15">11:00</text>
<text x="0" y="0" font-size="7.1" fill="#000" text-anchor="middle" font-weight="bold" font-family="'Liberation Serif', serif" transform="translate(482.64 370.8) scale(0.98 1)" stroke="#000" stroke-width="0.15">12:00</text>
<text x="0" y="0" font-size="7.1" fill="#000" text-anchor="middle" font-weight="bold" font-family="'Liberation Serif', serif" transform="translate(512.8 370.8) scale(0.98 1)" stroke="#000" stroke-width="0.15">13:00</text>
<text x="0" y="0" font-size="7.1" fill="#000" text-anchor="middle" font-weight="bold" font-family="'Liberation Serif', serif" transform="translate(542.96 370.8) scale(0.98 1)" stroke="#000" stroke-width="0.15">14:00</text>
<text x="0" y="0" font-size="7.1" fill="#000" text-anchor="middle" font-weight="bold" font-family="'Liberation Serif', serif" transform="translate(573.11 370.8) scale(0.98 1)" stroke="#000" stroke-width="0.15">15:00</text>
<text x="0" y="0" font-size="7.1" fill="#000" text-anchor="middle" font-weight="bold" font-family="'Liberation Serif', serif" transform="translate(603.27 370.8) scale(0.98 1)" stroke="#000" stroke-width="0.15">16:00</text>
<text x="0" y="0" font-size="7.1" fill="#000" text-anchor="middle" font-weight="bold" font-family="'Liberation Serif', serif" transform="translate(633.42 370.8) scale(0.98 1)" stroke="#000" stroke-width="0.15">17:00</text>
<text x="512.8" y="381.3" font-size="7.5" fill="#000" text-anchor="middle" font-weight="bold" font-family="'Liberation Serif', serif" stroke="#000" stroke-width="0.15">Time (h)</text>
</g></svg></div></body></html>
